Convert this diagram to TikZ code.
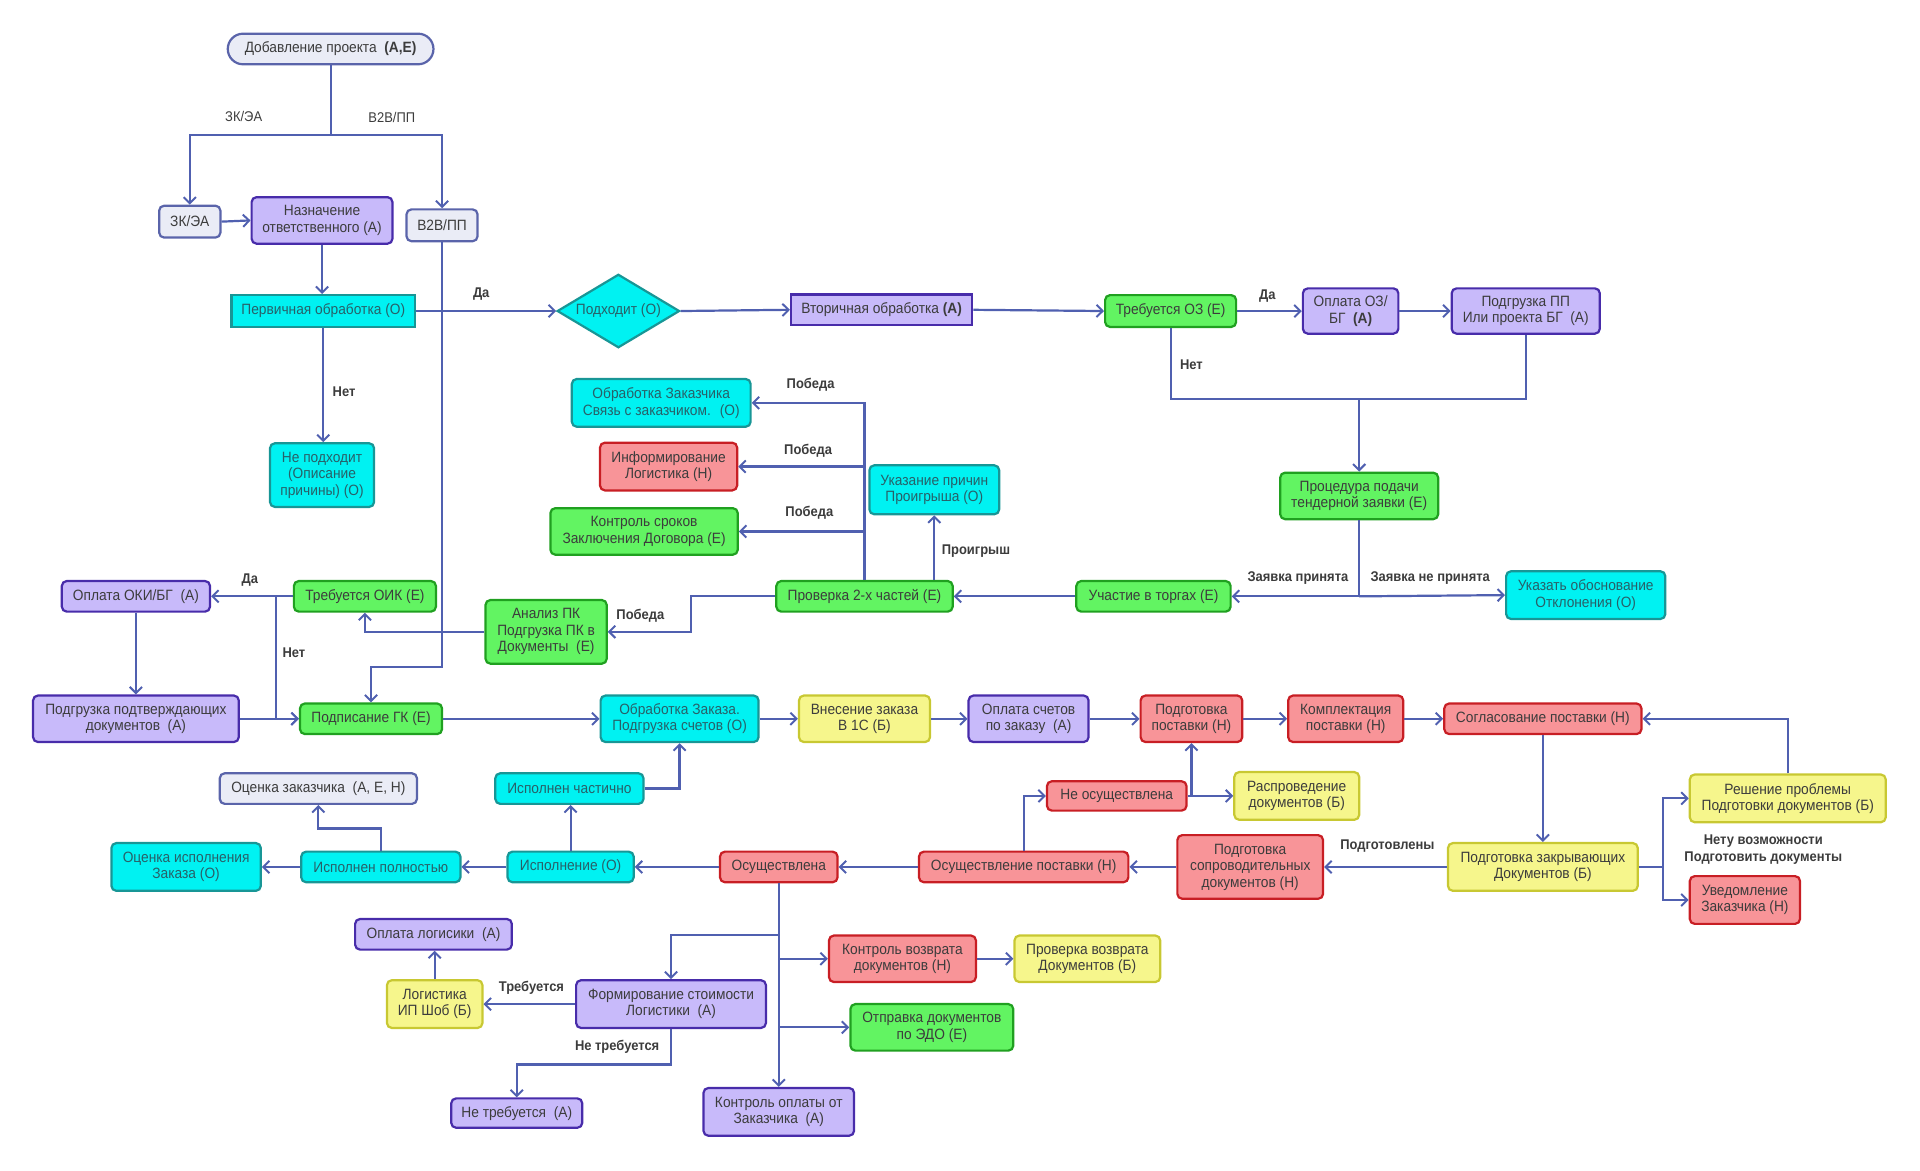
\documentclass[tikz,border=0pt]{standalone}
\usepackage{fontspec}
\setmainfont{Liberation Sans}[FakeStretch=0.92]
\usetikzlibrary{arrows.meta,shapes.geometric,positioning}
\definecolor{cyanF}{RGB}{0,242,242}
\definecolor{cyanD}{RGB}{24,150,150}
\definecolor{cyanT}{RGB}{40,96,104}
\definecolor{purpF}{RGB}{200,186,250}
\definecolor{purpD}{RGB}{72,44,170}
\definecolor{greenF}{RGB}{98,244,98}
\definecolor{greenD}{RGB}{32,160,32}
\definecolor{redF}{RGB}{248,148,152}
\definecolor{redD}{RGB}{200,30,36}
\definecolor{yelF}{RGB}{246,246,140}
\definecolor{yelD}{RGB}{200,200,50}
\definecolor{greyF}{RGB}{234,236,246}
\definecolor{greyD}{RGB}{90,100,170}
\definecolor{link}{RGB}{80,96,176}
\definecolor{txt}{RGB}{60,60,60}
\tikzset{
  blk/.style={draw, line width=1.8pt, rounded corners=4pt, align=center, inner sep=1pt,
    font=\fontsize{12.2}{13.5}\selectfont, text=txt},
  cyanbox/.style={blk, fill=cyanF, draw=cyanD, text=cyanT},
  purpbox/.style={blk, fill=purpF, draw=purpD},
  greenbox/.style={blk, fill=greenF, draw=greenD},
  redbox/.style={blk, fill=redF, draw=redD},
  yelbox/.style={blk, fill=yelF, draw=yelD},
  greybox/.style={blk, fill=greyF, draw=greyD},
  line/.style={draw=link, line width=1.8pt},
  arr/.style={line, -{Straight Barb[length=5pt,width=10pt,line width=1.6pt]}},
  lbl/.style={font=\bfseries\fontsize{11.5}{13.5}\selectfont, text=txt, align=center},
  plainlbl/.style={font=\fontsize{11.5}{13.5}\selectfont, text=txt},
}
\newcommand{\bx}[6]{\node[#1, minimum width=#4, minimum height=#5] (#2) at (#3) {#6};}

\begin{document}
\begin{tikzpicture}[x=1pt, y=-1pt]
\useasboundingbox (0,0) rectangle (1568,956);
% top part
\bx{greybox, rounded corners=12.5pt}{add}{270,40}{168}{25}{Добавление проекта \ \textbf{(А,Е)}}
\bx{greybox}{zkea}{155,181}{50}{26}{ЗК/ЭА}
\bx{purpbox}{naznach}{263,180}{115}{38}{Назначение\\ответственного (А)}
\bx{greybox}{btwob}{361,184}{58}{26}{B2B/ПП}
\bx{cyanbox, sharp corners}{perv}{264,254}{150}{26}{Первичная обработка (О)}
\node[cyanbox, sharp corners, diamond, aspect=1.75, minimum width=100, minimum height=60, inner sep=0pt] (podhod) at (505,254) {Подходит (О)};
\bx{purpbox, sharp corners}{vtor}{720,253}{148}{25}{Вторичная обработка \textbf{(А)}}
\bx{greenbox}{trebOZ}{956,254}{107}{26}{Требуется ОЗ (Е)}
\bx{purpbox}{oplOZ}{1103,254}{78}{37}{Оплата ОЗ/\\БГ \ \textbf{(А)}}
\bx{purpbox}{podgrPP}{1246,254}{121}{37}{Подгрузка ПП\\Или проекта БГ \ (А)}
\bx{cyanbox}{nepodh}{263,388}{85}{52}{Не подходит\\(Описание\\причины) (О)}
\bx{greenbox}{proc}{1110,405}{129}{38}{Процедура подачи\\тендерной заявки (Е)}
\bx{cyanbox}{ukazat}{1295,486}{130}{39}{Указать обоснование\\Отклонения (О)}
\bx{greenbox}{uchast}{942,487}{126}{25}{Участие в торгах (Е)}
\bx{greenbox}{prov}{706,487}{144}{25}{Проверка 2-х частей (Е)}
\bx{cyanbox}{obrZakch}{540,329}{146}{39}{Обработка Заказчика\\Связь с заказчиком. \ (О)}
\bx{redbox}{inform}{546,381}{112}{39}{Информирование\\Логистика (Н)}
\bx{greenbox}{kontrSrok}{526,434}{153}{38}{Контроль сроков\\Заключения Договора (Е)}
\bx{cyanbox}{ukazPrich}{763,400}{106}{40}{Указание причин\\Проигрыша (О)}
\bx{greenbox}{analiz}{446,516}{99}{52}{Анализ ПК\\Подгрузка ПК в\\Документы \ (Е)}
\bx{greenbox}{trebOIK}{298,487}{116}{25}{Требуется ОИК (Е)}
\bx{purpbox}{oplOIK}{111,487}{121}{25}{Оплата ОКИ/БГ \ (А)}
\bx{purpbox}{podtv}{111,587}{168}{38}{Подгрузка подтверждающих\\документов \ (А)}
\bx{greenbox}{podpis}{303,587}{116}{25}{Подписание ГК (Е)}
% middle row
\bx{cyanbox}{obrZakaz}{555,587}{129}{38}{Обработка Заказа.\\Подгрузка счетов (О)}
\bx{yelbox}{vnes}{706,587}{107}{38}{Внесение заказа\\В 1С (Б)}
\bx{purpbox}{oplSch}{840,587}{98}{38}{Оплата счетов\\по заказу \ (А)}
\bx{redbox}{podgPost}{973,587}{83}{38}{Подготовка\\поставки (Н)}
\bx{redbox}{kompl}{1099,587}{94}{38}{Комплектация\\поставки (Н)}
\bx{redbox}{sogl}{1260,587}{161}{25}{Согласование поставки (Н)}
\bx{yelbox}{zakr}{1260,708}{155}{39}{Подготовка закрывающих\\Документов (Б)}
\bx{yelbox}{resh}{1460,652}{160}{39}{Решение проблемы\\Подготовки документов (Б)}
\bx{redbox}{uved}{1425,735}{90}{39}{Уведомление\\Заказчика (Н)}
\bx{redbox}{sopr}{1021,708}{119}{52}{Подготовка\\сопроводительных\\документов (Н)}
\bx{redbox}{osushPost}{836,708}{171}{25}{Осуществление поставки (Н)}
\bx{redbox}{neOsush}{912,650}{114}{24}{Не осуществлена}
\bx{yelbox}{raspr}{1059,650}{102}{39}{Распроведение\\документов (Б)}
\bx{redbox}{osush}{636,708}{96}{25}{Осуществлена}
\bx{cyanbox}{ispoln}{466,708}{103}{25}{Исполнение (О)}
\bx{cyanbox}{ispPoln}{311,708}{130}{25}{Исполнен полностью}
\bx{cyanbox}{ocIsp}{152,708}{122}{39}{Оценка исполнения\\Заказа (О)}
\bx{greybox}{ocZak}{260,644}{161}{25}{Оценка заказчика \ (А, Е, Н)}
\bx{cyanbox}{ispChast}{465,644}{121}{25}{Исполнен частично}
% bottom part
\bx{redbox}{kontrVozv}{737,783}{120}{38}{Контроль возврата\\документов (Н)}
\bx{yelbox}{provVozv}{888,783}{119}{38}{Проверка возврата\\Документов (Б)}
\bx{greenbox}{otpr}{761,839}{133}{38}{Отправка документов\\по ЭДО (Е)}
\bx{purpbox}{kontrOpl}{636,908}{123}{39}{Контроль оплаты от\\Заказчика \ (А)}
\bx{purpbox}{form}{548,820}{155}{39}{Формирование стоимости\\Логистики \ (А)}
\bx{yelbox}{logist}{355,820}{78}{39}{Логистика\\ИП Шоб (Б)}
\bx{purpbox}{oplLog}{354,763}{128}{25}{Оплата логисики \ (А)}
\bx{purpbox}{neTreb}{422,909}{107}{24}{Не требуется \ (А)}

% connectors
\coordinate (fork) at (270,110);
\draw[line] (add.south) -- (fork);
\draw[arr] (fork) -| (zkea.north);
\draw[arr] (fork) -| (btwob.north);
\node[plainlbl] at (199,95) {ЗК/ЭА};
\node[plainlbl] at (320,96) {B2B/ПП};
\draw[arr] (zkea.east) -- (naznach.west);
\draw[arr] (naznach.south) -- (naznach.south |- perv.north);
\draw[arr] (perv.east) -- (podhod.west);
\node[lbl] at (393,240) {Да};
\draw[arr] (perv.south) -- (nepodh.north -| perv.south);
\node[lbl] at (281,320) {Нет};
\coordinate (btwobBend) at (361,545);
\draw[arr] (btwob.south) -- (btwobBend) -| (podpis.north);
\draw[arr] (podhod.east) -- (vtor.west);
\draw[arr] (vtor.east) -- (trebOZ.west);
\draw[arr] (trebOZ.east) -- (oplOZ.west);
\node[lbl] at (1035,242) {Да};
\draw[arr] (oplOZ.east) -- (podgrPP.west);
\coordinate (merge) at (1110,326);
\draw[line] (trebOZ.south) |- (merge);
\draw[line] (podgrPP.south) |- (merge);
\draw[arr] (merge) -- (proc.north);
\node[lbl] at (973,298) {Нет};
\coordinate (zayavka) at (1110,487);
\draw[line] (proc.south) -- (zayavka);
\draw[arr] (zayavka) -- (uchast.east);
\draw[arr] (zayavka) -- (ukazat.west);
\node[lbl] at (1060,472) {Заявка принята};
\node[lbl] at (1168,472) {Заявка не принята};
\draw[arr] (uchast.west) -- (prov.east);
\draw[arr] (prov.north) |- (obrZakch.east);
\draw[arr] (prov.north) |- (inform.east);
\draw[arr] (prov.north) |- (kontrSrok.east);
\node[lbl] at (662,314) {Победа};
\node[lbl] at (660,368) {Победа};
\node[lbl] at (661,419) {Победа};
\draw[arr] (prov.north -| ukazPrich) -- (ukazPrich.south);
\node[lbl] at (797,450) {Проигрыш};
\draw[arr] (prov.west) -- ++(-69,0) |- (analiz.east);
\node[lbl] at (523,503) {Победа};
\draw[arr] (analiz.west) -| (trebOIK.south);
\draw[arr] (trebOIK.west) -- (oplOIK.east);
\node[lbl] at (204,474) {Да};
\draw[arr] (trebOIK.west) ++(-14,0) |- (podpis.west);
\node[lbl] at (240,533) {Нет};
\draw[arr] (oplOIK.south) -- (podtv.north);
\draw[arr] (podtv.east) -- (podpis.west);
\draw[arr] (podpis.east) -- (obrZakaz.west);
\draw[arr] (obrZakaz.east) -- (vnes.west);
\draw[arr] (vnes.east) -- (oplSch.west);
\draw[arr] (oplSch.east) -- (podgPost.west);
\draw[arr] (podgPost.east) -- (kompl.west);
\draw[arr] (kompl.east) -- (sogl.west);
\draw[arr] (sogl.south) -- (zakr.north);
\coordinate (nety) at (1358,708);
\draw[line] (zakr.east) -- (nety);
\draw[arr] (nety) |- (resh.west);
\draw[arr] (nety) |- (uved.west);
\node[lbl] at (1440,694) {Нету возможности\\Подготовить документы};
\draw[arr] (resh.north) |- (sogl.east);
\draw[arr] (zakr.west) -- (sopr.east);
\node[lbl] at (1133,691) {Подготовлены};
\draw[arr] (sopr.west) -- (osushPost.east);
\draw[arr] (osushPost.north) |- (neOsush.west);
\draw[arr] (neOsush.east) -- (raspr.west);
\draw[arr] (neOsush.east -| podgPost) -- (podgPost.south);
\draw[arr] (osushPost.west) -- (osush.east);
\draw[arr] (osush.west) -- (ispoln.east);
\draw[arr] (ispoln.west) -- (ispPoln.east);
\draw[arr] (ispPoln.west) -- (ocIsp.east);
\draw[arr] (ispPoln.north) -- ++(0,-18) -| (ocZak.south);
\draw[arr] (ispoln.north) -- (ispChast.south -| ispoln.north);
\draw[arr] (ispChast.east) -| (obrZakaz.south);
\draw[arr] (osush.south) -- (kontrOpl.north);
\draw[arr] (osush.south) ++(0,42) -| (form.north);
\draw[arr] (osush.south |- kontrVozv.west) -- (kontrVozv.west);
\draw[arr] (osush.south |- otpr.west) -- (otpr.west);
\draw[arr] (kontrVozv.east) -- (provVozv.west);
\draw[arr] (form.west) -- (logist.east);
\node[lbl] at (434,807) {Требуется};
\draw[arr] (logist.north) -- (oplLog.south -| logist.north);
\draw[arr] (form.south) -- ++(0,29) -| (neTreb.north);
\node[lbl] at (504,855) {Не требуется};
\end{tikzpicture}
\end{document}
